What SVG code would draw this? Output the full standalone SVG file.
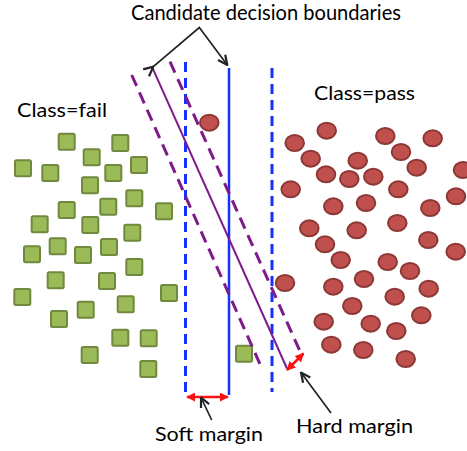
<svg xmlns="http://www.w3.org/2000/svg" width="467" height="451" viewBox="0 0 467 451">
  <defs>
    <style>
      .sq { fill: #9BBB59; stroke: #71893F; stroke-width: 2; }
      .ci { fill: #C0504D; stroke: #8C3836; stroke-width: 2; }
      .lbl { font-family: Lato, "Open Sans", "Liberation Sans", sans-serif; fill: #000; }
      .blue { stroke: #1530FF; fill: none; }
      .purple { stroke: #7E1A8A; fill: none; }
      .ptr { stroke: #222; stroke-width: 1.7; fill: none; }
      .red { stroke: #FF1010; stroke-width: 2.5; fill: none; }
    </style>
    <marker id="chev" viewBox="0 0 12 12" refX="11" refY="6" markerWidth="12" markerHeight="12" markerUnits="userSpaceOnUse" orient="auto">
      <path d="M1.5,1.5 L11,6 L1.5,10.5" fill="none" stroke="#222" stroke-width="2.2"/>
    </marker>
    <marker id="redhead" viewBox="0 0 10 10" refX="9" refY="5" markerWidth="9" markerHeight="9" markerUnits="userSpaceOnUse" orient="auto-start-reverse">
      <path d="M0,0 L10,5 L0,10 Z" fill="#FF1010"/>
    </marker>
  </defs>

  <rect width="467" height="451" fill="#fff"/>

  <!-- class labels and titles -->
  <g id="title">
    <text class="lbl" x="131" y="20" font-size="20.5" textLength="270" lengthAdjust="spacingAndGlyphs">Candidate decision boundaries</text>
  </g>
  <g id="label-fail">
    <text class="lbl" x="17" y="117" font-size="20" textLength="90" lengthAdjust="spacingAndGlyphs">Class=fail</text>
  </g>
  <g id="label-pass">
    <text class="lbl" x="314" y="100" font-size="20" textLength="101" lengthAdjust="spacingAndGlyphs">Class=pass</text>
  </g>
  <g id="label-soft">
    <text class="lbl" x="155" y="441" font-size="20" textLength="108" lengthAdjust="spacingAndGlyphs">Soft margin</text>
  </g>
  <g id="label-hard">
    <text class="lbl" x="296" y="433" font-size="20" textLength="117" lengthAdjust="spacingAndGlyphs">Hard margin</text>
  </g>

  <!-- class fail samples -->
  <g id="fail-points">
    <rect class="sq" x="58.7" y="133.7" width="16" height="16" rx="1.5"/>
    <rect class="sq" x="112.3" y="135" width="16" height="16" rx="1.5"/>
    <rect class="sq" x="83.7" y="149.3" width="16" height="16" rx="1.5"/>
    <rect class="sq" x="15" y="160.3" width="16" height="16" rx="1.5"/>
    <rect class="sq" x="42.3" y="165" width="16" height="16" rx="1.5"/>
    <rect class="sq" x="131" y="157" width="16" height="16" rx="1.5"/>
    <rect class="sq" x="105.3" y="165" width="16" height="16" rx="1.5"/>
    <rect class="sq" x="82" y="177.3" width="16" height="16" rx="1.5"/>
    <rect class="sq" x="126.3" y="190.3" width="16" height="16" rx="1.5"/>
    <rect class="sq" x="58.7" y="202" width="16" height="16" rx="1.5"/>
    <rect class="sq" x="100.3" y="198.7" width="16" height="16" rx="1.5"/>
    <rect class="sq" x="156" y="203.3" width="16" height="16" rx="1.5"/>
    <rect class="sq" x="31.7" y="216.3" width="16" height="16" rx="1.5"/>
    <rect class="sq" x="82.3" y="217" width="16" height="16" rx="1.5"/>
    <rect class="sq" x="124.3" y="224.7" width="16" height="16" rx="1.5"/>
    <rect class="sq" x="49.7" y="238.3" width="16" height="16" rx="1.5"/>
    <rect class="sq" x="24" y="246.3" width="16" height="16" rx="1.5"/>
    <rect class="sq" x="75" y="247" width="16" height="16" rx="1.5"/>
    <rect class="sq" x="101" y="239" width="16" height="16" rx="1.5"/>
    <rect class="sq" x="126.3" y="259" width="16" height="16" rx="1.5"/>
    <rect class="sq" x="47.7" y="272.3" width="16" height="16" rx="1.5"/>
    <rect class="sq" x="99" y="273" width="16" height="16" rx="1.5"/>
    <rect class="sq" x="14.3" y="289" width="16" height="16" rx="1.5"/>
    <rect class="sq" x="161" y="285" width="16" height="16" rx="1.5"/>
    <rect class="sq" x="77.7" y="301.7" width="16" height="16" rx="1.5"/>
    <rect class="sq" x="117.7" y="296.3" width="16" height="16" rx="1.5"/>
    <rect class="sq" x="51" y="311" width="16" height="16" rx="1.5"/>
    <rect class="sq" x="112.3" y="329.7" width="16" height="16" rx="1.5"/>
    <rect class="sq" x="140.7" y="330.3" width="16" height="16" rx="1.5"/>
    <rect class="sq" x="81.7" y="347" width="16" height="16" rx="1.5"/>
    <rect class="sq" x="140.3" y="361" width="16" height="16" rx="1.5"/>
    <rect class="sq" x="236" y="345.7" width="16" height="16" rx="1.5"/>
  </g>

  <!-- class pass samples -->
  <g id="pass-points">
    <ellipse class="ci" cx="209.3" cy="122.7" rx="9.3" ry="8"/>
    <ellipse class="ci" cx="326.7" cy="130.7" rx="9.3" ry="8"/>
    <ellipse class="ci" cx="294.7" cy="143" rx="9.3" ry="8"/>
    <ellipse class="ci" cx="385.3" cy="136" rx="9.3" ry="8"/>
    <ellipse class="ci" cx="432.7" cy="138.3" rx="9.3" ry="8"/>
    <ellipse class="ci" cx="310.7" cy="158.7" rx="9.3" ry="8"/>
    <ellipse class="ci" cx="401" cy="152" rx="9.3" ry="8"/>
    <ellipse class="ci" cx="357.7" cy="160.7" rx="9.3" ry="8"/>
    <ellipse class="ci" cx="416.7" cy="167.7" rx="9.3" ry="8"/>
    <ellipse class="ci" cx="326" cy="174.3" rx="9.3" ry="8"/>
    <ellipse class="ci" cx="349.3" cy="179" rx="9.3" ry="8"/>
    <ellipse class="ci" cx="373.3" cy="176.7" rx="9.3" ry="8"/>
    <ellipse class="ci" cx="463" cy="170" rx="9.3" ry="8"/>
    <ellipse class="ci" cx="290.7" cy="189.3" rx="9.3" ry="8"/>
    <ellipse class="ci" cx="398.3" cy="189.3" rx="9.3" ry="8"/>
    <ellipse class="ci" cx="333.3" cy="206.3" rx="9.3" ry="8"/>
    <ellipse class="ci" cx="366" cy="203" rx="9.3" ry="8"/>
    <ellipse class="ci" cx="456" cy="196.3" rx="9.3" ry="8"/>
    <ellipse class="ci" cx="430.3" cy="208" rx="9.3" ry="8"/>
    <ellipse class="ci" cx="309.3" cy="228.3" rx="9.3" ry="8"/>
    <ellipse class="ci" cx="356.7" cy="230.3" rx="9.3" ry="8"/>
    <ellipse class="ci" cx="397.3" cy="223" rx="9.3" ry="8"/>
    <ellipse class="ci" cx="325" cy="244.3" rx="9.3" ry="8"/>
    <ellipse class="ci" cx="428.3" cy="240" rx="9.3" ry="8"/>
    <ellipse class="ci" cx="455.7" cy="251.7" rx="9.3" ry="8"/>
    <ellipse class="ci" cx="340.7" cy="260" rx="9.3" ry="8"/>
    <ellipse class="ci" cx="387.7" cy="262" rx="9.3" ry="8"/>
    <ellipse class="ci" cx="410" cy="271" rx="9.3" ry="8"/>
    <ellipse class="ci" cx="285" cy="283" rx="9.3" ry="8"/>
    <ellipse class="ci" cx="333.3" cy="286.7" rx="9.3" ry="8"/>
    <ellipse class="ci" cx="364" cy="279" rx="9.3" ry="8"/>
    <ellipse class="ci" cx="428.7" cy="288.7" rx="9.3" ry="8"/>
    <ellipse class="ci" cx="394.7" cy="296.7" rx="9.3" ry="8"/>
    <ellipse class="ci" cx="352.3" cy="306" rx="9.3" ry="8"/>
    <ellipse class="ci" cx="421.3" cy="315.3" rx="9.3" ry="8"/>
    <ellipse class="ci" cx="323.7" cy="321.7" rx="9.3" ry="8"/>
    <ellipse class="ci" cx="370.7" cy="323.7" rx="9.3" ry="8"/>
    <ellipse class="ci" cx="396.3" cy="331" rx="9.3" ry="8"/>
    <ellipse class="ci" cx="331.3" cy="344.7" rx="9.3" ry="8"/>
    <ellipse class="ci" cx="363.3" cy="350" rx="9.3" ry="8"/>
    <ellipse class="ci" cx="405.7" cy="359" rx="9.3" ry="8"/>
  </g>

  <g id="connectors">
    <!-- vertical boundary with its dashed margins -->
    <line class="blue" x1="185.5" y1="62" x2="185.5" y2="393" stroke-width="3" stroke-dasharray="10,6"/>
    <line class="blue" x1="229" y1="68" x2="229" y2="395" stroke-width="2.5"/>
    <line class="blue" x1="272" y1="68" x2="272" y2="392" stroke-width="3" stroke-dasharray="10,6"/>
    <!-- slanted boundary with its dashed margins -->
    <line class="purple" x1="131.7" y1="75" x2="261.7" y2="368" stroke-width="3" stroke-dasharray="12,7"/>
    <line class="purple" x1="152.7" y1="68.3" x2="287" y2="368.5" stroke-width="2"/>
    <line class="purple" x1="170" y1="61.7" x2="301.7" y2="355" stroke-width="3" stroke-dasharray="12,7"/>
    <!-- pointers from the title -->
    <polyline class="ptr" points="153.3,66.7 199.3,27.5 227.3,65" marker-start="url(#chev)" marker-end="url(#chev)"/>
    <!-- margin widths -->
    <line class="red" x1="187" y1="397" x2="228" y2="397" marker-start="url(#redhead)" marker-end="url(#redhead)"/>
    <line class="red" x1="287" y1="370" x2="303.5" y2="353.5" marker-start="url(#redhead)" marker-end="url(#redhead)"/>
    <!-- label pointers -->
    <line class="ptr" x1="211.7" y1="420" x2="201" y2="397.5" marker-end="url(#chev)"/>
    <line class="ptr" x1="331" y1="413" x2="301" y2="372.5" marker-end="url(#chev)"/>
  </g>
</svg>
